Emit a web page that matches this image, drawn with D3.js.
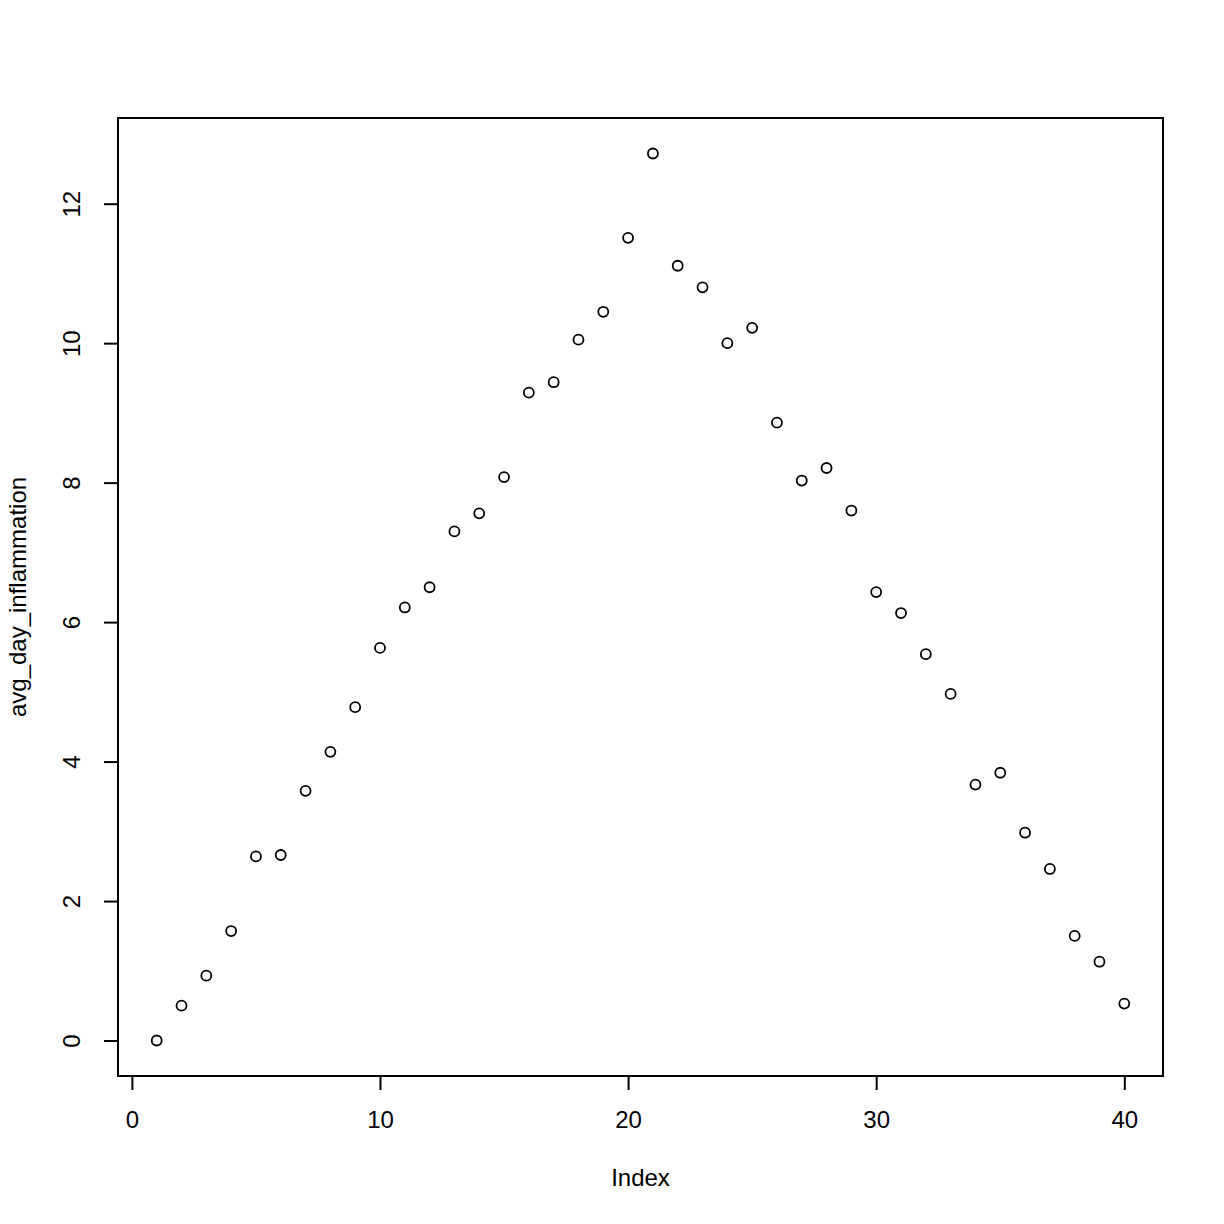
<!DOCTYPE html>
<html>
<head>
<meta charset="utf-8">
<script src="https://cdn.jsdelivr.net/npm/d3@7"></script>
<style>
  body { margin: 0; background: #fff; }
  text { font-family: "Liberation Sans", Arial, sans-serif; fill: #000; }
</style>
</head>
<body>
<svg id="chart" width="1224" height="1224"></svg>
<script>
// average inflammation per day
var index = d3.range(1, 41);
var avgDayInflammation = [0, 0.50, 0.93, 1.57, 2.64, 2.66, 3.58, 4.14, 4.78, 5.63,
  6.21, 6.50, 7.30, 7.56, 8.08, 9.29, 9.44, 10.05, 10.45, 11.51,
  12.72, 11.11, 10.80, 10.00, 10.22, 8.86, 8.03, 8.21, 7.60, 6.43,
  6.13, 5.54, 4.97, 3.67, 3.84, 2.98, 2.46, 1.50, 1.13, 0.53];
var xTicks = [0, 10, 20, 30, 40];
var yTicks = [0, 2, 4, 6, 8, 10, 12];

var svg = d3.select("svg");
var plotLeft = 118, plotRight = 1163, plotTop = 118, plotBottom = 1076;
var fontSize = 24;

// R pads the data range by 4% each side
var xPad = (40 - 1) * 0.04;
var yMax = d3.max(avgDayInflammation), yPad = yMax * 0.04;
var x = d3.scaleLinear().domain([1 - xPad, 40 + xPad]).range([plotLeft, plotRight]);
var y = d3.scaleLinear().domain([0 - yPad, yMax + yPad]).range([plotBottom, plotTop]);

//box
svg.append("rect")
  .attr("x", plotLeft).attr("y", plotTop)
  .attr("width", plotRight - plotLeft).attr("height", plotBottom - plotTop)
  .attr("fill", "none").attr("stroke", "#000").attr("stroke-width", 2);

//x axis
var xAxis = svg.append("g").attr("transform", "translate(0," + plotBottom + ")")
  .call(d3.axisBottom(x).tickValues(xTicks).tickSize(14).tickPadding(21).tickSizeOuter(0));
xAxis.select(".domain").attr("d", "M" + x(0) + ",0H" + x(40)).attr("stroke-width", 2);
xAxis.selectAll(".tick line").attr("stroke-width", 2);
xAxis.selectAll(".tick text").attr("font-size", fontSize).attr("fill", "#000");

//y axis
var yAxis = svg.append("g").attr("transform", "translate(" + plotLeft + ",0)")
  .call(d3.axisLeft(y).tickValues(yTicks).tickSize(14).tickSizeOuter(0));
yAxis.select(".domain").attr("d", "M0," + y(0) + "V" + y(12)).attr("stroke-width", 2);
yAxis.selectAll(".tick line").attr("stroke-width", 2);
yAxis.selectAll(".tick text")
  .attr("font-size", fontSize).attr("fill", "#000")
  .attr("x", 0).attr("y", 0).attr("dy", 0)
  .attr("text-anchor", "middle")
  .attr("transform", "translate(-38,0) rotate(-90)");

//points
svg.append("g").selectAll("circle")
  .data(avgDayInflammation).enter().append("circle")
  .attr("cx", function(d, i){return x(index[i])})
  .attr("cy", function(d){return y(d)})
  .attr("r", 5)
  .attr("fill", "none")
  .attr("stroke", "#000")
  .attr("stroke-width", 1.8);

//labels
svg.append("text")
  .attr("x", (plotLeft + plotRight) / 2).attr("y", 1186)
  .attr("text-anchor", "middle").attr("font-size", fontSize)
  .text("Index");
svg.append("text")
  .attr("transform", "translate(26," + (plotTop + plotBottom) / 2 + ") rotate(-90)")
  .attr("text-anchor", "middle").attr("font-size", fontSize)
  .text("avg_day_inflammation");
</script>
</body>
</html>
